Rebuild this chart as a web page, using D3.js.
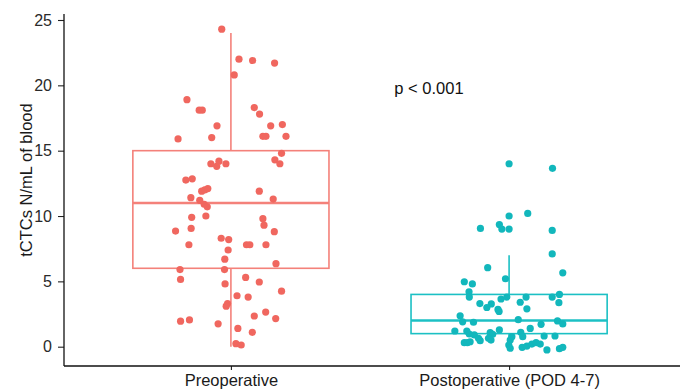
<!DOCTYPE html>
<html>
<head>
<meta charset="utf-8">
<script src="https://cdn.jsdelivr.net/npm/d3@7"></script>
<style>
  html, body { margin: 0; padding: 0; background: #fff; }
  svg { display: block; font-family: Arial, "Liberation Sans", Helvetica, sans-serif; }
</style>
</head>
<body>
<svg id="chart" width="680" height="390"></svg>
<script>
// ---- Data ----
const categories = ["Preoperative", "Postoperative (POD 4-7)"];
const yTicks = [0, 5, 10, 15, 20, 25];
const yLabel = "tCTCs N/mL of blood";
const pLabel = "p < 0.001";

// box statistics: [low whisker, Q1, median, Q3, high whisker]
const preBox  = [0, 6, 11, 15, 24];
const postBox = [0, 1, 2, 4, 7];

// jittered observations (value, horizontal jitter in category units)
const preValues = [24.3,22.0,21.9,21.7,20.8,18.9,18.1,18.1,18.3,17.8,16.9,16.9,17.0,15.9,16.0,16.1,16.1,16.1,14.8,14.3,14.0,14.0,13.8,14.2,14.0,12.75,12.85,11.9,12.0,12.1,11.9,11.4,11.2,11.3,10.9,10.7,9.9,10.0,9.8,9.3,8.85,9.05,8.8,7.8,8.3,8.2,7.8,7.8,7.8,7.4,6.7,6.35,5.9,5.9,5.15,4.8,5.3,4.95,4.25,3.9,3.8,3.3,3.1,1.95,2.05,1.75,2.35,2.65,2.15,1.4,1.1,0.23,0.13];
const preJitter = [-0.033,0.029,0.078,0.157,0.012,-0.158,-0.114,-0.103,0.084,0.103,-0.050,0.143,0.185,-0.190,-0.069,0.115,0.126,0.198,0.182,0.158,0.176,-0.072,-0.051,-0.043,-0.018,-0.162,-0.139,-0.105,-0.094,-0.083,0.102,-0.144,-0.112,0.152,-0.096,-0.085,-0.141,-0.090,0.115,0.119,-0.199,-0.143,0.156,-0.151,-0.035,-0.008,0.056,0.068,0.126,-0.010,-0.022,0.162,-0.183,-0.023,-0.181,-0.021,0.053,0.102,0.182,0.022,0.062,-0.012,-0.017,-0.181,-0.149,-0.046,0.084,0.125,0.161,0.025,0.077,0.018,0.037];

const postValues = [14.0,13.65,10.0,10.2,9.05,9.35,9.0,9.0,8.9,7.1,6.05,5.65,5.2,4.97,4.8,4.2,3.8,3.65,3.8,3.8,3.8,4.0,3.3,3.27,3.0,2.85,2.7,3.4,2.9,3.37,2.37,1.9,1.87,2.07,1.71,1.97,1.74,1.2,1.2,0.97,0.9,0.64,0.46,1.07,0.95,0.64,0.51,1.28,0.77,0.51,1.1,0.77,1.4,0.82,0.82,0.31,0.31,0.38,0.13,-0.12,-0.05,0.05,0.2,0.31,0.2,-0.25,-0.15,-0.05];
const postJitter = [0,0.156,0,0.067,-0.103,-0.035,-0.026,0,0.155,0.155,-0.077,0.193,-0.013,-0.161,-0.132,-0.144,-0.143,-0.029,-0.008,0.061,0.155,0.181,-0.105,-0.064,-0.080,-0.040,-0.036,0.040,0.064,0.179,-0.176,-0.167,-0.128,0.033,0.115,0.174,0.193,-0.195,-0.152,-0.143,-0.125,-0.110,-0.104,-0.068,-0.059,-0.074,-0.065,-0.035,0.010,0.004,0.042,0.049,0.076,0.126,0.165,-0.161,-0.150,-0.140,-0.001,0.004,0.047,0.064,0.082,0.097,0.112,0.136,0.181,0.193];

const colors = ["#F4817A", "#1CC0C4"];
const pointColors = ["#F0675F", "#12B7BC"];

// ---- Layout ----
const svg = d3.select("#chart");
const mLeft = 64, mRight = 676, mTop = 14, axisY = 366;

const x = d3.scalePoint().domain(categories).range([mLeft, mRight]).padding(0.6);
const step = x.step();
const y = d3.scaleLinear().domain([0, 25]).range([346.7, 20]);

// axes
const yAxis = svg.append("g").attr("transform", `translate(${mLeft},0)`)
  .call(d3.axisLeft(y).tickValues(yTicks).tickSize(6).tickPadding(6));
yAxis.select(".domain").remove();
yAxis.selectAll(".tick line").attr("stroke", "#222").attr("stroke-width", 1.1);
yAxis.selectAll(".tick text").attr("fill", "#2a2a2a").style("font-size", "16px");
svg.append("line").attr("x1", mLeft).attr("x2", mLeft).attr("y1", mTop).attr("y2", axisY)
  .attr("stroke", "#111").attr("stroke-width", 1.3);

const xAxis = svg.append("g").attr("transform", `translate(0,${axisY})`)
  .call(d3.axisBottom(x).tickSize(4).tickPadding(4));
xAxis.select(".domain").remove();
xAxis.selectAll(".tick line").attr("stroke", "#222").attr("stroke-width", 1.1);
xAxis.selectAll(".tick text").attr("fill", "#1a1a1a").style("font-size", "16.5px");
svg.append("line").attr("x1", mLeft).attr("x2", 680).attr("y1", axisY).attr("y2", axisY)
  .attr("stroke", "#111").attr("stroke-width", 1.3);

// y label
svg.append("text")
  .attr("transform", `translate(32,180) rotate(-90)`)
  .attr("text-anchor", "middle")
  .attr("fill", "#1a1a1a")
  .style("font-size", "16.5px")
  .text(yLabel);

// boxes
const boxes = [preBox, postBox];
const boxW = step * 0.705;
categories.forEach((c, i) => {
  const b = boxes[i];
  const cx = x(c);
  const g = svg.append("g").attr("stroke", colors[i]).attr("fill", "none").attr("stroke-width", 1.6);
  g.append("line").attr("x1", cx).attr("x2", cx).attr("y1", y(b[4])).attr("y2", y(b[3]));
  g.append("line").attr("x1", cx).attr("x2", cx).attr("y1", y(b[1])).attr("y2", y(b[0]));
  g.append("rect").attr("x", cx - boxW / 2).attr("width", boxW)
    .attr("y", y(b[3])).attr("height", y(b[1]) - y(b[3]));
  g.append("line").attr("x1", cx - boxW / 2).attr("x2", cx + boxW / 2)
    .attr("y1", y(b[2])).attr("y2", y(b[2])).attr("stroke-width", 2.6);
});

// points
const series = [[preValues, preJitter], [postValues, postJitter]];
categories.forEach((c, i) => {
  const [vals, jit] = series[i];
  const pts = vals.map((v, k) => ({ v, j: jit[k] }));
  svg.append("g").selectAll("circle").data(pts).join("circle")
    .attr("cx", d => x(c) + d.j * step)
    .attr("cy", d => y(d.v))
    .attr("r", 3.6)
    .attr("fill", pointColors[i]);
});

// p-value annotation
svg.append("text")
  .attr("x", 429).attr("y", 94)
  .attr("text-anchor", "middle")
  .attr("fill", "#111")
  .style("font-size", "16.5px")
  .text(pLabel);
</script>
</body>
</html>
